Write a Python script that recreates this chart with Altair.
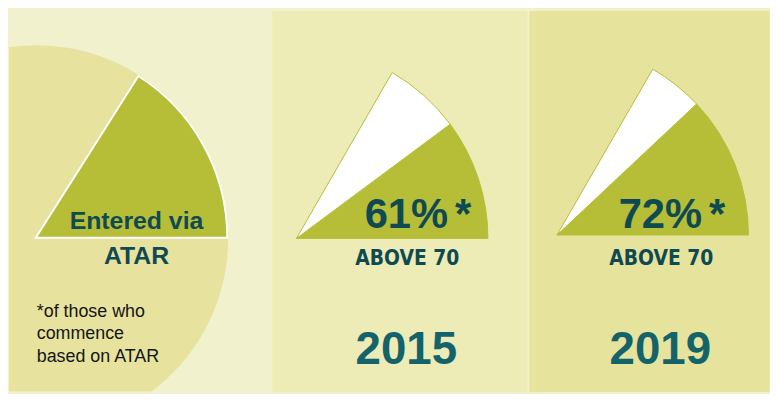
import math

import altair as alt
import pandas as pd

# ---- data ----
years = ["2015", "2019"]
above_70 = [61, 72]          # % of ATAR entrants with ATAR above 70
atar_share = 16              # % of commencing students who entered via ATAR
wedge_span = 60              # degrees covered by the year wedges
above_label = "ABOVE 70"
atar_label = ["Entered via", "ATAR"]
footnote = ["*of those who", "commence", "based on ATAR"]

# ---- styles ----
bg_left, bg_mid, bg_right = "#f2f1cd", "#edebb6", "#e6e39c"
circle_col = "#e7e39f"
green = "#b6bd37"
dark = "#0f4a52"
teal = "#14636b"
SANS = "Liberation Sans, Arial, Helvetica, sans-serif"
NARROW = "DejaVu Sans Condensed, sans-serif"
R = 193
H = 384


def left_panel(width):
    circle = pd.DataFrame({"part": ["all"], "value": [100]})
    atar = pd.DataFrame({"part": ["atar"], "value": [atar_share]})
    theta_scale = alt.Scale(domain=[0, 100], range=[math.pi / 2 + 2 * math.pi, math.pi / 2])

    base = alt.Chart(circle).mark_arc(radius=194, clip=True, color=circle_col).encode(
        theta=alt.Theta("value:Q", scale=theta_scale),
        x=alt.value(27), y=alt.value(229),
    )
    wedge = alt.Chart(atar).mark_arc(
        radius=R, clip=True, color=green, stroke="white", strokeWidth=2
    ).encode(
        theta=alt.Theta("value:Q", scale=theta_scale),
        x=alt.value(27), y=alt.value(229),
    )
    lbl = alt.Chart(pd.DataFrame({"t": [atar_label]})).mark_text(
        font=SANS, fontSize=25, fontWeight="bold", color=dark,
        align="center", baseline="alphabetic", lineHeight=35,
    ).encode(text="t", x=alt.value(128.5), y=alt.value(220))
    note = alt.Chart(pd.DataFrame({"t": [footnote]})).mark_text(
        font=SANS, fontSize=18, color="#151515",
        align="left", baseline="alphabetic", lineHeight=22.5,
    ).encode(text="t", x=alt.value(28), y=alt.value(309))
    return alt.layer(base, wedge, lbl, note).properties(
        width=width, height=H, view=alt.ViewBackground(fill=bg_left, stroke="transparent")
    )


def year_panel(year, pct, width, bg, cx, cy, tx):
    parts = pd.DataFrame({
        "part": ["above", "rest"],
        "value": [pct, 100 - pct],
        "idx": [0, 1],
    })
    start = math.pi / 2
    end = start - math.radians(wedge_span)
    arc = alt.Chart(parts).mark_arc(radius=R, stroke=green, strokeWidth=1).encode(
        theta=alt.Theta("value:Q", stack=True,
                        scale=alt.Scale(domain=[0, 100], range=[start, end])),
        color=alt.Color("part:N", scale=alt.Scale(domain=["above", "rest"],
                                                  range=[green, "white"]), legend=None),
        order=alt.Order("idx:Q"),
        x=alt.value(cx), y=alt.value(cy),
    )
    lab = pd.DataFrame({"pct": [f"{pct}%"], "star": ["*"],
                        "above": [above_label], "year": [year]})
    txt = alt.Chart(lab)
    pct_text = txt.mark_text(
        font=SANS, fontSize=42, fontWeight="bold", color=dark, align="center", baseline="alphabetic"
    ).encode(text="pct:N", x=alt.value(tx), y=alt.value(219))
    star = txt.mark_text(
        font=SANS, fontSize=42, fontWeight="bold", color=dark, align="left", baseline="alphabetic"
    ).encode(text="star:N", x=alt.value(tx + 49), y=alt.value(219))
    above = txt.mark_text(
        font=NARROW, fontSize=21, fontWeight="bold", color=dark, align="center", baseline="alphabetic"
    ).encode(text="above:N", x=alt.value(tx + 1), y=alt.value(256))
    yr = txt.mark_text(
        font=SANS, fontSize=46, fontWeight="bold", color=teal, align="center", baseline="alphabetic"
    ).encode(text="year:N", x=alt.value(tx), y=alt.value(356))
    return alt.layer(arc, pct_text, star, above, yr).properties(
        width=width, height=H, view=alt.ViewBackground(fill=bg, stroke="transparent")
    )


chart = alt.hconcat(
    left_panel(263),
    year_panel(years[0], above_70[0], 257, bg_mid, 24.7, 229.7, 135.5),
    year_panel(years[1], above_70[1], 242, bg_right, 28.3, 226.3, 132.5),
    spacing=0,
).properties(padding=0, background=bg_left).configure_view(stroke="transparent")

chart.save("out.html", embed_options={"renderer": "svg", "actions": False})
